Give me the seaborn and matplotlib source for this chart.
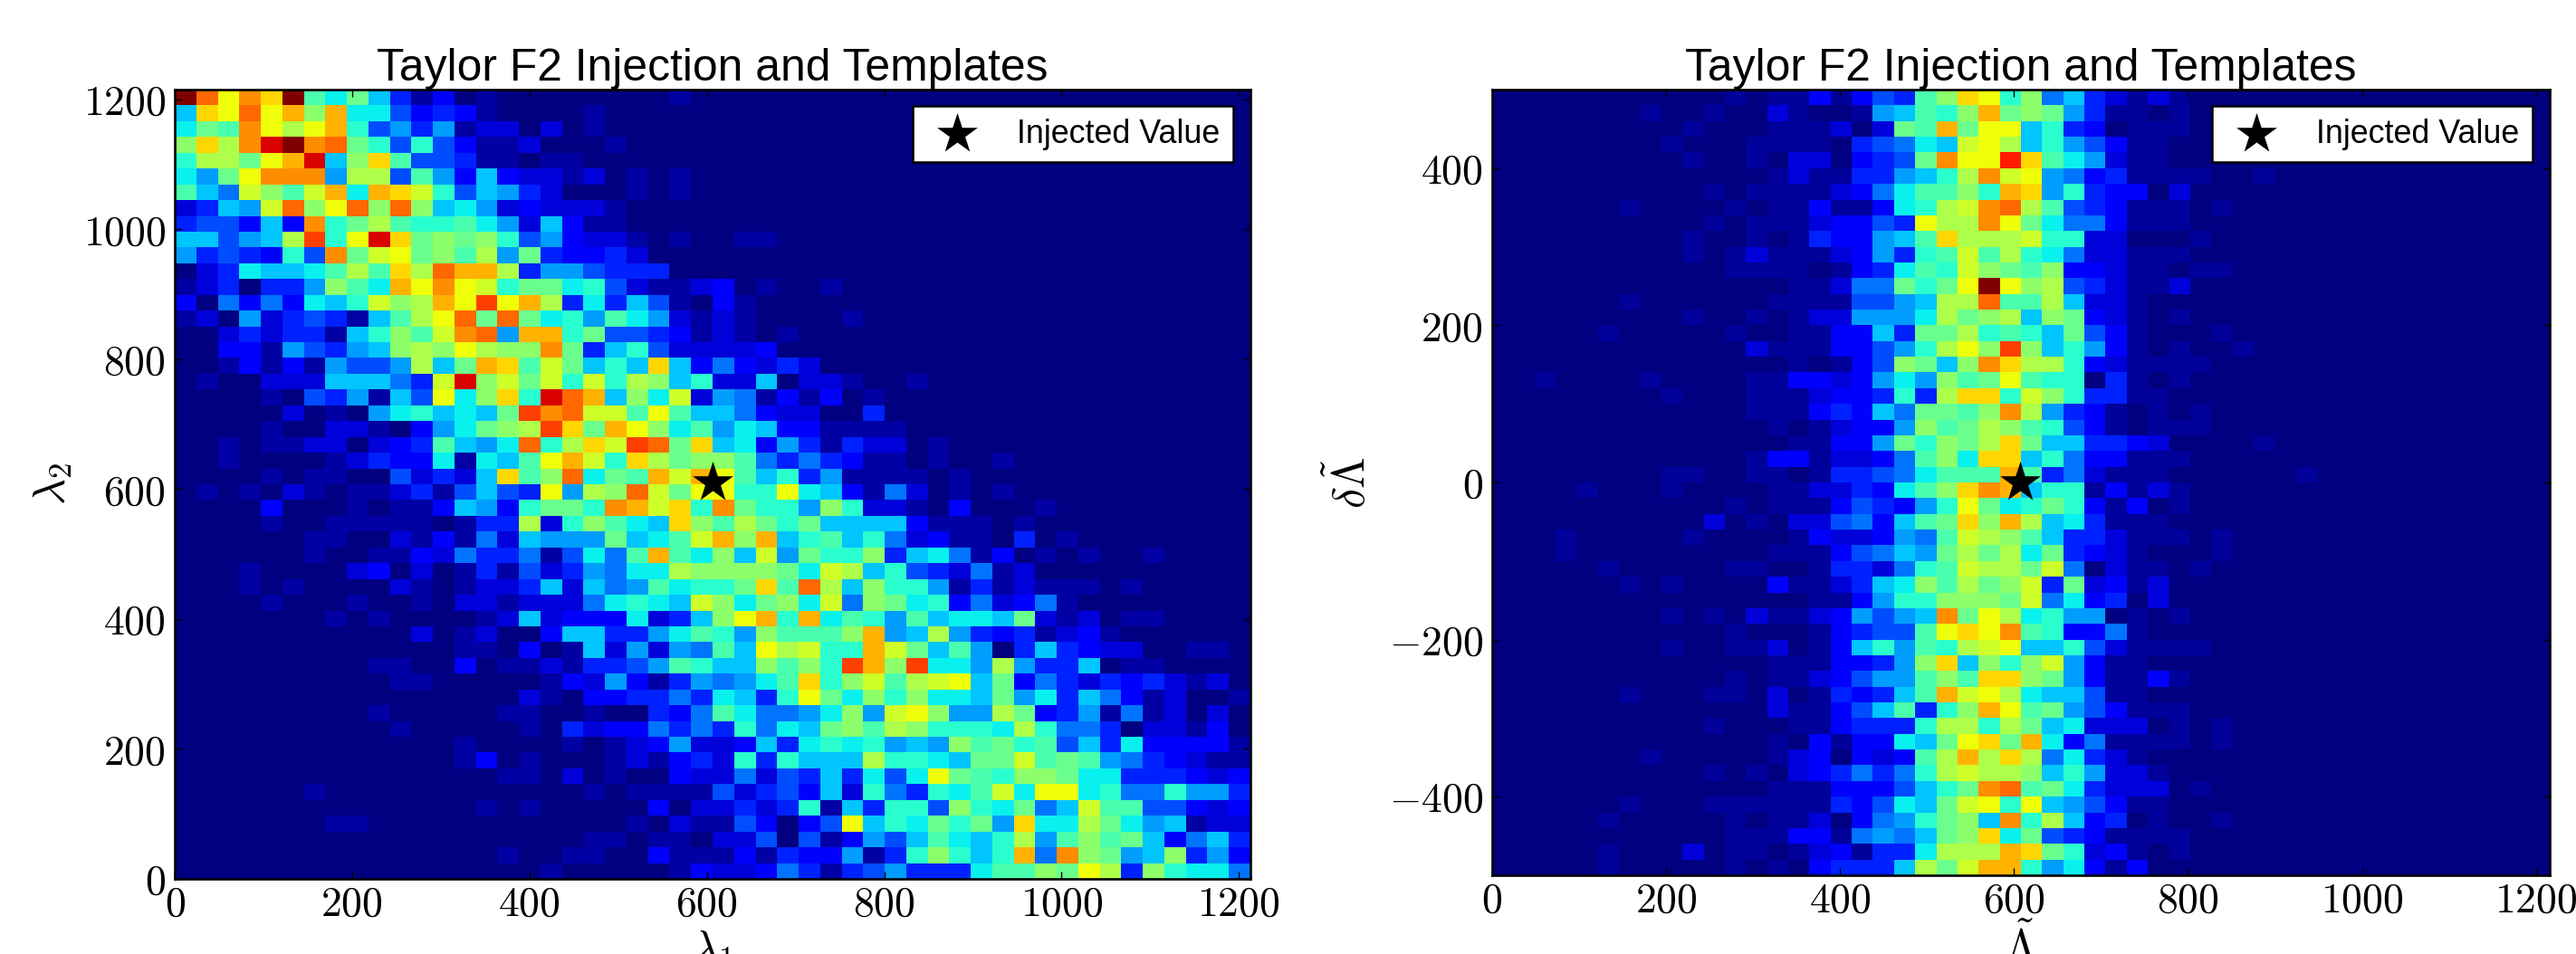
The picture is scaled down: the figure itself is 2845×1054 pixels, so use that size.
import numpy as np
import matplotlib
matplotlib.use('Agg')
import matplotlib.pyplot as plt
import seaborn as sns

# values, one char per bin: '.'=0, 1-9, a=10 ... p=25
# rows go top to bottom, empty bins at the end of a row are left out
lambda_rows = [
    "pkgjhpb9c8413.1........1",
    "8hgkgidi9953431....1",
    "9cbjgegia5747122.2.1",
    "dhejnpjkca5a53112...1",
    "aeecgin8dhb55411.11",
    "97cgjjj7ee5b73832212.1.1",
    "b86fdbfi9ihfa58742...1.1",
    "2487fkdgkdkd897232221",
    "455383jacebaab9728311",
    "88578elagnhcdcda573221.1..11",
    "74543a5jcfgcdbe7c43342",
    ".249889bebhekiie4775444",
    "124.447db9igjgfacc9a521123.1..1",
    "3.636398afdeiglgie494851.31",
    "12.7245418begkckc9a7b972121....1",
    "..2424418adbfjk7iiac5543121.1",
    "..33175478dedgeddjc48a522223",
    "..131317557e8cihbfc8a8h8363242",
    ".1..22288864fndfcfafaed8a228.221..1",
    "....1.547185g9dhanki8d9f2761313.1",
    ".....2.1.79a898cljkffbgb886322..4",
    "....1..221.379cdelhcigd9b798331111",
    "..1.1122.234b879kaehflkch893741422.1",
    "..1....124339198bgifahecddb6464311.1..1",
    "....1.11..52428hbdk9cbifigb8a471111.1",
    ".1.1.21.112415854g7edkfcggaag983162.1.1",
    "....3...1.113873accajifhajcaa7da221.3...1",
    "....1..11111.144e2adb98hdbecac88883111.1",
    "......11..2131628777c89bfidi8ab8a62311.4.1",
    "......1..113264461596bib9d8f7caad489613.1.1..1",
    "...1....23.2.1415247699eddddc9fe8a542612",
    "...1.1....21.122482867b9aachbke8daa71412111.1",
    "....1...1..1.22122269a98fd9cd9f6dc9a362361",
    ".......1.1....12823339248dgiai9ba7b8998c212.11",
    "...........2.12..3884479ba7dbbbdi78e74341231",
    ".............11.3.1827276b8gefaaifc8b7.484322..11",
    ".........11..3.11214457ba88dbdalidl997e7448.11",
    "..........11.....13273147679bhadfbefg8c3642434212",
    "................21.334464984agc9dad998c79486312..1",
    ".........1.....11..1..436b96679d7fgd77ec3471612.2",
    "..........1.....1.42336464a698cdbedaaa9ea664.2213",
    ".............1....1.1237223849a9a787dbcab584933331",
    ".............13.1...121342a4a888eaa98ccfbcb7643211",
    "...............11.2.1..322625484959gcbaddc99444323",
    "......1............1.11115245382a64a9bf9gg9a66a774",
    "..............1.1.....3.22424a184aa5da9c68fbb55323",
    ".......11............1.21153.35g8a9cac7h99ec978122",
    "...................11.11.225.513758b98ae7bdbc83684",
    "...............1..11..311131433714ada8ai6jdc78d473",
    ".................1.....132236414574449bbdcge4da996",
]

tilde_rows = [
    "...........1.1131354bdhgad6842121",
    ".......1..1..21..178badicdc7411.1",
    ".........1...1112.2cbicgg8a43.111",
    "........1...1111.45698fge8a75311",
    ".........1..1.22.345cjggmhb97211",
    ".............12114478aejfg76341111..1",
    "..........1.11112369bbdaih7a433.2",
    "......1....1.1131139aefjkeb543111.1",
    "..........1.11123354geejgc9663111",
    ".........1..1.143378bheeefaa22...1",
    ".........1.121112374abfbea9622111",
    "...........1111.1349bafdcbd33211.11",
    "..............11266cacgpgde542112",
    "......1......11115578eekbbe8221",
    ".........1..1.1227779ecde8dc321.1",
    ".....1.....1..113384cceaba8c531...1",
    "............21113357aegdld8a731.1..1",
    "..............1.135dc8djheea321111",
    "..1....1....113323797dbcgbaa.41.1",
    "........1...1112334a4ehhafda4411",
    "............11134386ccbdje7431.1.1",
    ".............1.12337dbcedba531.111",
    "..............11337cadcehc884432....1",
    "............13312236bd9hh8a633111",
    "........11..11.144569bbbib462111......1",
    "....1...1....1122439bdhji8aa13121",
    "...........1.11135437agc9aca313.1",
    "..........2.1.225638bchdie894111",
    "...1.....1....1322376bfedb8442111.1",
    "...1.........11135687cece9c4321...1",
    ".....1.....11..14426abfeecf6.211.1",
    "......1.1....3112489dbecdf4c2312",
    "...............1137aadddcf6934.2",
    "........1.1.211237578jcge9a77.1.1",
    "...........1...13455bghgjba3361",
    "........1..112.138a7baefg88a521111",
    ".............1113347dh8dadf7311",
    "...........1.1123577bdbhhdc731131",
    "......1...11.2.14348bifge988511",
    ".............211358b4adigbc753111",
    "..........1...113444aeeaec89222.1.1",
    ".............1.313398cghci9361111.1",
    ".......1.....123.323beiehe69421",
    "..........1.1.234646aefeed8a7221",
    ".............11133358acjkbc94222.1",
    "......1...11111143598cfgag875311",
    ".....1.....1.112.367acd8jae834.1..1",
    "...........1113316768cdh9c5431111",
    ".....1...2.11.1231449eeeihca231.1",
    ".....1.....1.1.34448ecfiia79313",
]

# the faintest bins read darker than a full step on the scale
lambda_faint = 0.8
tilde_faint = 0.6

lambda_xticks = [0, 200, 400, 600, 800, 1000, 1200]
lambda_yticks = [0, 200, 400, 600, 800, 1000, 1200]
tilde_xticks = [0, 200, 400, 600, 800, 1000, 1200]
tilde_yticks = [-400, -200, 0, 200, 400]

lambda_xlim = (0, 1213)
lambda_ylim = (0, 1215)
tilde_xlim = (0, 1216)
tilde_ylim = (-500, 500)

injected_lambda = (607, 610)
injected_tilde = (607, 0)

title = 'Taylor F2 Injection and Templates'
legend_label = 'Injected Value'

plt.rcParams['mathtext.fontset'] = 'cm'
plt.rcParams['font.family'] = ['Liberation Sans', 'DejaVu Sans']

W, H = 2845, 1054
fig = plt.figure(figsize=(W / 100, H / 100), dpi=100)


def to_counts(rows, faint):
    vals = [[0 if c == '.' else int(c, 26) for c in r.ljust(50, '.')] for r in rows]
    return np.where(np.array(vals) == 1, faint, np.array(vals, dtype=float))


def tick_text(v):
    return f'${v}$' if v >= 0 else f'$-{-v}$'


def draw_panel(box, rows, faint, xlim, ylim, xticks, yticks, star, xlabel, ylabel, ylabel_x, legend_box):
    left, top, right, bottom = box
    ax = fig.add_axes([left / W, 1 - bottom / H, (right - left) / W, (bottom - top) / H])
    sns.heatmap(to_counts(rows, faint), ax=ax, cmap='jet', vmin=0, vmax=25, cbar=False,
                xticklabels=False, yticklabels=False)

    # heatmap axes count bins, so turn data values into bin positions
    to_x = lambda v: (v - xlim[0]) / (xlim[1] - xlim[0]) * 50
    to_y = lambda v: 50 - (v - ylim[0]) / (ylim[1] - ylim[0]) * 50

    ax.set_xticks([to_x(v) for v in xticks])
    ax.set_xticklabels([tick_text(v) for v in xticks], rotation=0, fontsize=33)
    ax.set_yticks([to_y(v) for v in yticks])
    ax.set_yticklabels([tick_text(v) for v in yticks], rotation=0, fontsize=33)
    ax.tick_params(direction='in', top=True, right=True, length=5.5, width=1, color='k')
    ax.tick_params(axis='x', pad=5)
    ax.tick_params(axis='y', pad=7)

    for s in ax.spines.values():
        s.set_visible(True)
        s.set_linewidth(1.9)
        s.set_color('k')

    ax.scatter([to_x(star[0])], [to_y(star[1])], marker='*', s=1150, color='k',
               linewidths=0, zorder=5, label=legend_label)

    ax.set_title(title, fontsize=35.8, pad=7)
    ax.set_xlabel(xlabel, fontsize=36)
    ax.xaxis.set_label_coords(0.5, -0.062, transform=ax.transAxes)
    ax.xaxis.label.set_va('top')
    ax.set_ylabel(ylabel, fontsize=36)
    ax.yaxis.set_label_coords((ylabel_x - left) / (right - left), 0.5, transform=ax.transAxes)

    leg = ax.legend(loc='lower left', bbox_to_anchor=legend_box, mode='expand', borderaxespad=0,
                    fontsize=25.8, scatterpoints=1, fancybox=False, framealpha=1,
                    edgecolor='k', handletextpad=0.85, borderpad=0.37)
    leg.get_frame().set_linewidth(1.8)
    return ax


def legend_anchor(box, x0, y0, x1, y1):
    left, top, right, bottom = box
    return ((x0 - left) / (right - left), (bottom - y1) / (bottom - top),
            (x1 - x0) / (right - left), (y1 - y0) / (bottom - top))


box_a = (193, 99, 1381, 971)
box_b = (1648, 99, 2816, 967)

draw_panel(box_a, lambda_rows, lambda_faint, lambda_xlim, lambda_ylim, lambda_xticks, lambda_yticks,
           injected_lambda, r'$\lambda_1$', r'$\lambda_2$', 82,
           legend_anchor(box_a, 1008, 118, 1362, 179))
draw_panel(box_b, tilde_rows, tilde_faint, tilde_xlim, tilde_ylim, tilde_xticks, tilde_yticks,
           injected_tilde, r'$\tilde{\Lambda}$', r'$\delta\tilde{\Lambda}$', 1518,
           legend_anchor(box_b, 2443, 118, 2797, 179))

fig.savefig('out.png', dpi=100)
plt.close(fig)
